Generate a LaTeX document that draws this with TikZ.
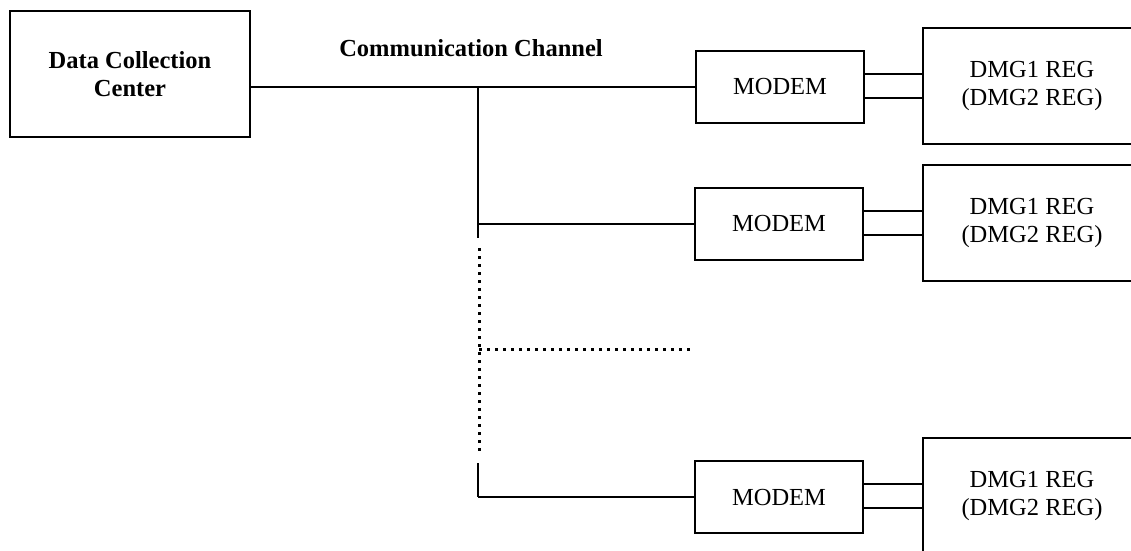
\documentclass[tikz,border=0pt]{standalone}
\usepackage{fontspec}
\setmainfont{Liberation Serif}
\usepackage{tikz}
\newcommand{\bigtext}{\fontsize{24.5}{28}\selectfont}

\begin{document}
\begin{tikzpicture}[x=1pt,y=-1pt,font=\bigtext,line width=1.2pt,
    box/.style={draw,line width=1.4pt,rectangle,inner sep=0pt,align=center},
    dotline/.style={draw,line width=3pt,dash pattern=on 3pt off 5pt}]
      \useasboundingbox (0,0) rectangle (1131,550);
      \clip (0,0) rectangle (1131,550);
      \node[box,minimum width=240pt,minimum height=126pt,font=\bigtext\bfseries](dcc) at (130,74) {Data Collection\\Center};
      \node(chan) at (471,48) {\bfseries Communication Channel};
      \node[box,minimum width=168pt,minimum height=72pt](m1) at (780,87) {MODEM};
      \node[box,minimum width=168pt,minimum height=72pt](m2) at (779,224) {MODEM};
      \node[box,minimum width=168pt,minimum height=72pt](m3) at (779,497) {MODEM};
      \node[box,minimum width=218pt,minimum height=116pt](r1) at (1032,86) {DMG1 REG\\(DMG2 REG)};
      \node[box,minimum width=218pt,minimum height=116pt](r2) at (1032,223) {DMG1 REG\\(DMG2 REG)};
      \node[box,minimum width=218pt,minimum height=116pt](r3) at (1032,496) {DMG1 REG\\(DMG2 REG)};
      \coordinate(j1) at (478,88);
      \coordinate(j2) at (478,224);
      \coordinate(j2b) at (478,238);
      \coordinate(d1) at (479,248);
      \coordinate(d2) at (479,451);
      \coordinate(dh) at (479,349);
      \coordinate(dhe) at (690,349);
      \coordinate(j3a) at (478,463);
      \coordinate(j3) at (478,497);
      \path (dcc.east |- m1.west) edge (m1.west);
      \path (j1) edge (j2b);
      \path (j2) edge (m2.west);
      \path[dotline] (d1) -- (d2);
      \path[dotline] (dh) -- (dhe);
      \path (j3a) edge (j3);
      \path (j3) edge (m3.west);
      \foreach \i in {1,2,3} {
        \path ([yshift=13pt]m\i.east) edge ([yshift=13pt]m\i.east -| r\i.west);
        \path ([yshift=-11pt]m\i.east) edge ([yshift=-11pt]m\i.east -| r\i.west);
      }
    \end{tikzpicture}
\end{document}
